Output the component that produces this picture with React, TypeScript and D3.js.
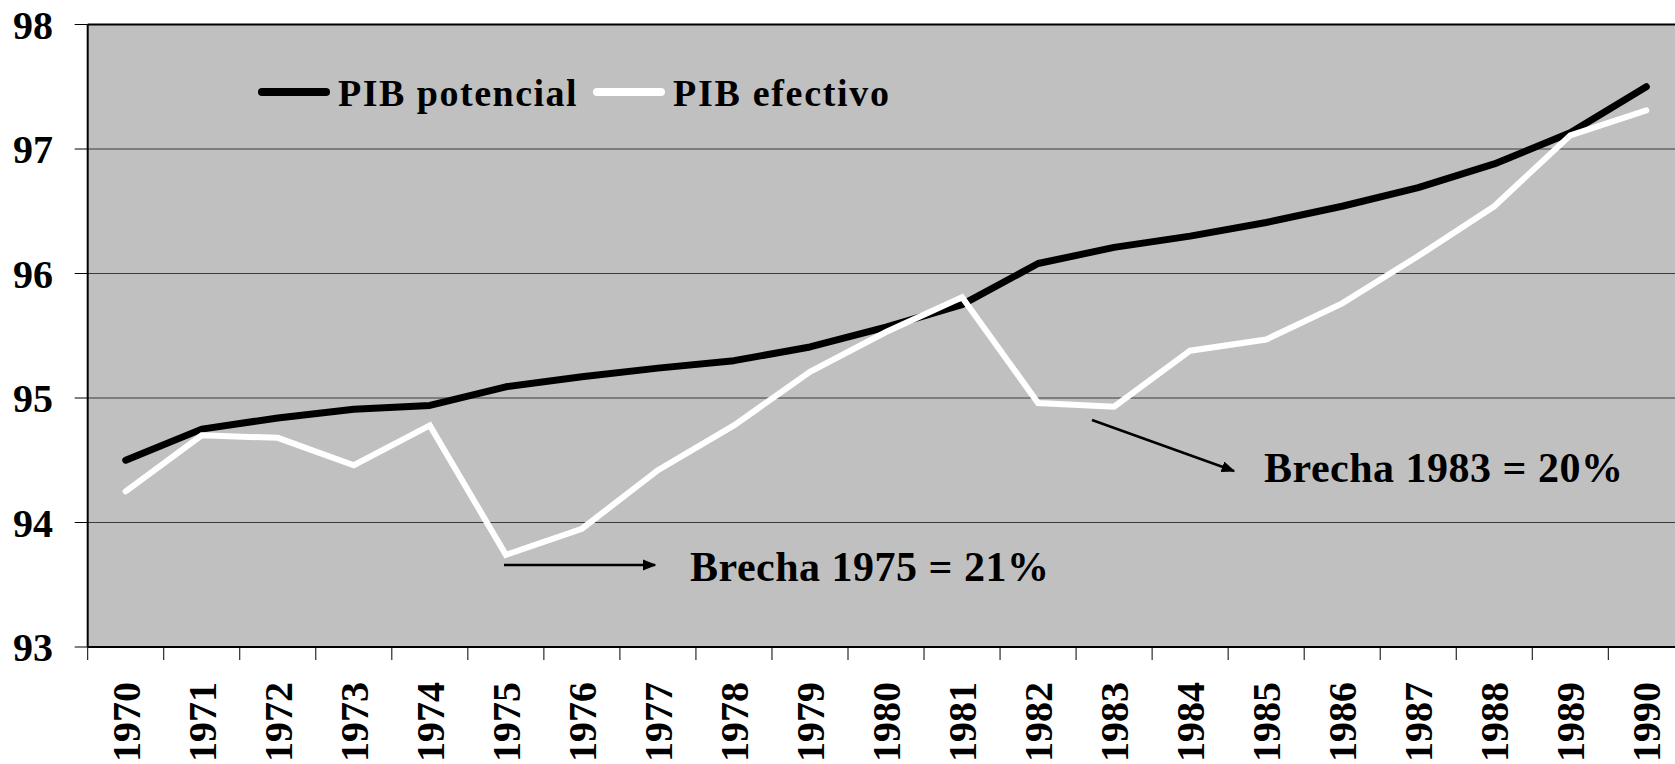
import React from 'react';
import * as d3 from 'd3';

// Años del eje X
const years = [
  '1970', '1971', '1972', '1973', '1974', '1975', '1976', '1977', '1978', '1979', '1980',
  '1981', '1982', '1983', '1984', '1985', '1986', '1987', '1988', '1989', '1990',
];

// PIB potencial (escala log)
const potencial = [
  94.5, 94.75, 94.84, 94.91, 94.94, 95.09, 95.17, 95.24, 95.3, 95.41, 95.57,
  95.75, 96.08, 96.21, 96.3, 96.41, 96.54, 96.69, 96.88, 97.13, 97.5,
];

// PIB efectivo
const efectivo = [
  94.25, 94.7, 94.68, 94.46, 94.78, 93.74, 93.95, 94.42, 94.78, 95.21, 95.53,
  95.81, 94.96, 94.93, 95.38, 95.47, 95.76, 96.14, 96.54, 97.11, 97.31,
];

const yTicks = [93, 94, 95, 96, 97, 98];

const W = 1675;
const H = 764;
const left = 87.7;
const top = 24.5;
const bottom = 647;
const step = 76.03;
const font = '"Liberation Serif", "Times New Roman", serif';

export default function App() {
  const x = d3
    .scaleBand()
    .domain(years)
    .range([left, left + step * years.length]);

  const y = d3.scaleLinear().domain([93, 98]).range([bottom, top]);

  const cx = (i: number) => (x(years[i]) as number) + x.bandwidth() / 2;

  const line = d3
    .line<number>()
    .x((_, i) => cx(i))
    .y((d) => y(d));

  const right = left + step * years.length;

  return (
    <svg
      width={W}
      height={H}
      style={{ position: 'absolute', left: 0, top: 0, background: '#fff', overflow: 'hidden' }}
      fontFamily={font}
      fontWeight="bold"
    >
      <defs>
        <marker id="arr" viewBox="0 0 10 10" refX="9" refY="5" markerWidth="5.5" markerHeight="4.5" orient="auto" markerUnits="strokeWidth" preserveAspectRatio="none">
          <path d="M0,0 L10,5 L0,10 z" fill="#000" />
        </marker>
      </defs>

      {/* area del gráfico */}
      <rect x={left} y={top} width={right - left} height={bottom - top} fill="#c0c0c0" />

      {/* líneas de cuadrícula */}
      {yTicks.slice(1, -1).map((t) => (
        <line key={t} x1={left} x2={right} y1={y(t)} y2={y(t)} stroke="#3a3a3a" strokeWidth={1} />
      ))}
      <line x1={left} x2={right} y1={top} y2={top} stroke="#000" strokeWidth={2} />
      <line x1={left} x2={right} y1={bottom} y2={bottom} stroke="#000" strokeWidth={2} />
      <line x1={left} x2={left} y1={top} y2={bottom} stroke="#000" strokeWidth={2} />

      {/* eje Y */}
      {yTicks.map((t) => (
        <g key={t}>
          <line x1={left - 13} x2={left} y1={y(t)} y2={y(t)} stroke="#000" strokeWidth={1} />
          <text x={53} y={y(t)} dy="0.35em" textAnchor="end" fontSize={40}>
            {t}
          </text>
        </g>
      ))}

      {/* eje X */}
      {d3.range(years.length + 1).map((i) => (
        <line
          key={i}
          x1={left + step * i}
          x2={left + step * i}
          y1={bottom}
          y2={bottom + 13}
          stroke="#000"
          strokeWidth={1}
        />
      ))}
      {years.map((yr, i) => (
        <text
          key={yr}
          transform={`translate(${cx(i)},682) rotate(-90)`}
          dy="0.35em"
          textAnchor="end"
          fontSize={40}
        >
          {yr}
        </text>
      ))}

      {/* series */}
      <path d={line(potencial) as string} fill="none" stroke="#000" strokeWidth={7} strokeLinecap="round" strokeLinejoin="round" />
      <path d={line(efectivo) as string} fill="none" stroke="#fff" strokeWidth={6} strokeLinecap="round" strokeLinejoin="miter" />

      {/* leyenda */}
      <line x1={262} x2={326} y1={92} y2={92} stroke="#000" strokeWidth={8} strokeLinecap="round" />
      <text x={338} y={105.5} fontSize={38} letterSpacing={1.5}>
        PIB potencial
      </text>
      <line x1={597} x2={661} y1={92} y2={92} stroke="#fff" strokeWidth={8} strokeLinecap="round" />
      <text x={673} y={105.5} fontSize={38} letterSpacing={1.7}>
        PIB efectivo
      </text>

      {/* anotaciones */}
      <line x1={504} x2={655} y1={565} y2={565} stroke="#000" strokeWidth={2.5} markerEnd="url(#arr)" />
      <text x={690} y={581} fontSize={42} letterSpacing={0.5}>
        Brecha 1975 = 21%
      </text>
      <line x1={1092} x2={1234} y1={420} y2={471} stroke="#000" strokeWidth={2.5} markerEnd="url(#arr)" />
      <text x={1264} y={482} fontSize={42} letterSpacing={0.5}>
        Brecha 1983 = 20%
      </text>
    </svg>
  );
}
